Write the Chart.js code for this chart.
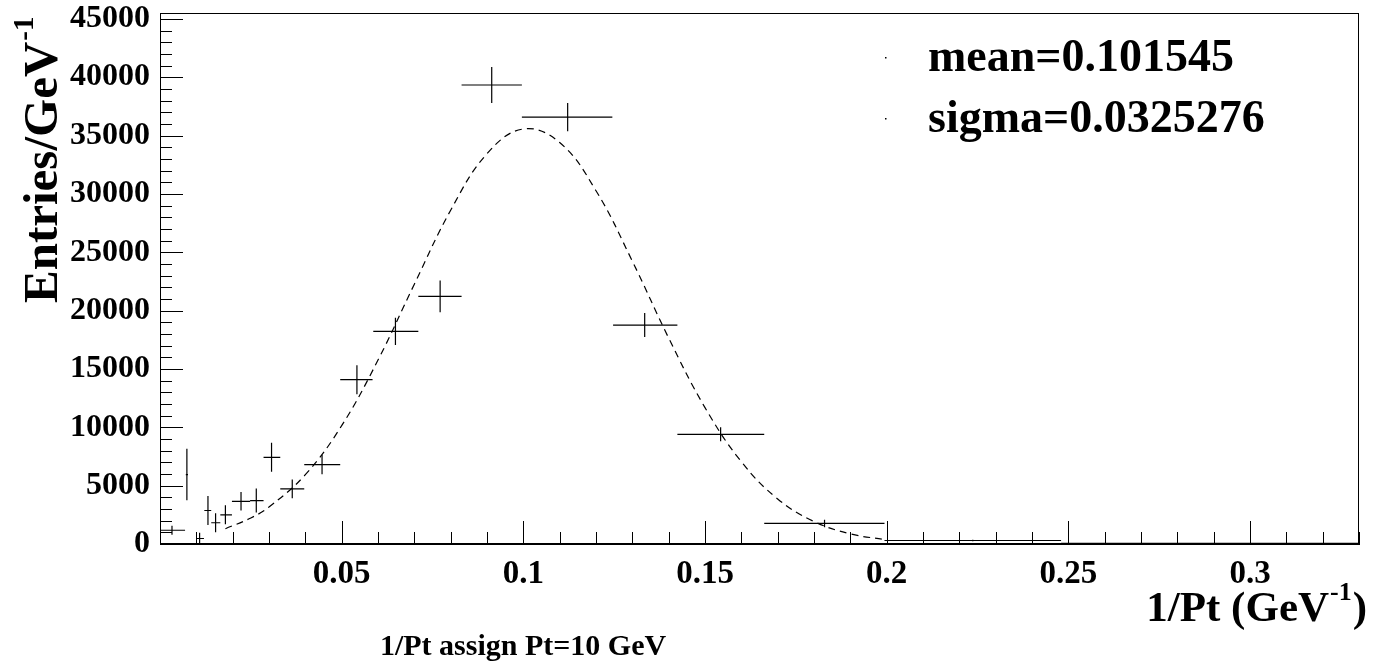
<!DOCTYPE html>
<html>
<head>
<meta charset="utf-8">
<script src="https://cdn.jsdelivr.net/npm/chart.js@4"></script>
<style>
  body { margin: 0; background: #fff; }
  #wrap { width: 1384px; height: 666px; }
</style>
</head>
<body>
<div id="wrap"><canvas id="histo" width="1384" height="666"></canvas></div>
<script>
// bin centres, edges, contents and errors
const binCenter = [0.0033, 0.0074, 0.0109, 0.0132, 0.0153, 0.0180, 0.0223, 0.0265, 0.0307, 0.0364, 0.0446,
  0.0542, 0.0648, 0.0771, 0.0913, 0.1122, 0.1334, 0.1543, 0.1829, 0.2237, 0.2890];
const binLow = [0.0000, 0.0071, 0.0100, 0.0122, 0.0141, 0.0166, 0.0198, 0.0248, 0.0285, 0.0331, 0.0397,
  0.0496, 0.0587, 0.0711, 0.0830, 0.0996, 0.1247, 0.1424, 0.1663, 0.1994, 0.2480];
const binHigh = [0.0069, 0.0077, 0.0121, 0.0141, 0.0166, 0.0198, 0.0248, 0.0285, 0.0331, 0.0397, 0.0496,
  0.0585, 0.0711, 0.0830, 0.0996, 0.1245, 0.1424, 0.1663, 0.1994, 0.2480, 0.3300];
const entries = [1180, 5950, 470, 2870, 1820, 2500, 3660, 3720, 7430, 4730, 6810,
  14080, 18220, 21210, 39330, 36570, 18760, 9400, 1760, 300, 60];
const entryErr = [380, 2210, 490, 1250, 810, 810, 800, 1030, 1240, 800, 830,
  1240, 1170, 1360, 1540, 1210, 1030, 600, 320, 60, 20];

// dashed gaussian fit
const fitX = [0.018, 0.025, 0.03, 0.04, 0.05, 0.06, 0.07, 0.08, 0.09, 0.10,
  0.11, 0.12, 0.13, 0.14, 0.15, 0.16, 0.17, 0.18, 0.19, 0.20];
const fitY = [1310, 2230, 3170, 5940, 10140, 15760, 22260, 28600, 33440, 35560,
  34400, 30270, 24240, 17650, 11690, 7050, 3860, 1930, 870, 360];

const xTickValues = [0.05, 0.1, 0.15, 0.2, 0.25, 0.3];
const xTickLabels = ["0.05", "0.1", "0.15", "0.2", "0.25", "0.3"];
const yTickValues = [0, 5000, 10000, 15000, 20000, 25000, 30000, 35000, 40000, 45000];
const yTickLabels = ["0", "5000", "10000", "15000", "20000", "25000", "30000", "35000", "40000", "45000"];

const legendLines = ["mean=0.101545", "sigma=0.0325276"];
const histTitle = "1/Pt assign Pt=10 GeV";

const X_MIN = 0, X_MAX = 0.33, Y_MIN = 0, Y_MAX = 45500;
const SERIF = "'Liberation Serif', 'DejaVu Serif', serif";

// segments for the error crosses, broken with nulls
const horizSeg = [];
const vertSeg = [];
binCenter.forEach((c, i) => {
  horizSeg.push({ x: binLow[i], y: entries[i] }, { x: binHigh[i], y: entries[i] }, { x: binHigh[i], y: null });
  vertSeg.push({ x: c, y: entries[i] - entryErr[i] }, { x: c, y: entries[i] + entryErr[i] }, { x: c, y: null });
});
const fitPts = fitX.map((x, i) => ({ x, y: fitY[i] }));

// text with a raised "-1"
const drawSup = (ctx, base, sup, tail, size) => {
  ctx.font = `bold ${size}px ${SERIF}`;
  const w1 = ctx.measureText(base).width;
  ctx.fillText(base, 0, 0);
  ctx.font = `bold ${Math.round(size * 0.6)}px ${SERIF}`;
  const w2 = ctx.measureText(sup).width;
  ctx.fillText(sup, w1 + 1, -size * 0.48);
  ctx.font = `bold ${size}px ${SERIF}`;
  if (tail) ctx.fillText(tail, w1 + w2 + 2, 0);
};
const supWidth = (ctx, base, sup, tail, size) => {
  ctx.font = `bold ${size}px ${SERIF}`;
  let w = ctx.measureText(base).width + (tail ? ctx.measureText(tail).width : 0);
  ctx.font = `bold ${Math.round(size * 0.6)}px ${SERIF}`;
  return w + ctx.measureText(sup).width + 2;
};

const rootFrame = {
  id: "rootFrame",
  afterDatasetsDraw(chart) {
    const { ctx, chartArea: a, scales: { x, y } } = chart;
    ctx.save();
    ctx.strokeStyle = "#000";
    ctx.lineWidth = 1;
    ctx.strokeRect(a.left + 0.5, a.top + 0.5, a.right - a.left - 1, a.bottom - a.top - 1);

    // ticks pointing inwards, ROOT style
    ctx.beginPath();
    for (let i = 1; i <= 33; i++) {
      const px = Math.round(x.getPixelForValue(i / 100)) + 0.5;
      const len = i % 5 === 0 ? 23 : 12;
      ctx.moveTo(px, a.bottom);
      ctx.lineTo(px, a.bottom - len);
    }
    for (let v = 1000; v <= 45000; v += 1000) {
      const py = Math.round(y.getPixelForValue(v)) + 0.5;
      const len = v % 5000 === 0 ? 23 : 12;
      ctx.moveTo(a.left, py);
      ctx.lineTo(a.left + len, py);
    }
    ctx.stroke();

    // legend
    ctx.fillStyle = "#000";
    ctx.font = `bold 46px ${SERIF}`;
    ctx.textBaseline = "alphabetic";
    ctx.textAlign = "left";
    const legendBase = [71, 132];
    legendLines.forEach((t, i) => {
      ctx.fillText(t, 928, legendBase[i]);
      ctx.fillRect(885, legendBase[i] - 14, 1.5, 1.5);
    });

    // x title, right aligned
    const xw = supWidth(ctx, "1/Pt (GeV", "-1", ")", 43);
    ctx.save();
    ctx.translate(1367 - xw, 621);
    drawSup(ctx, "1/Pt (GeV", "-1", ")", 43);
    ctx.restore();

    // y title, rotated
    ctx.save();
    ctx.translate(57, 303);
    ctx.rotate(-Math.PI / 2);
    drawSup(ctx, "Entries/GeV", "-1", "", 49);
    ctx.restore();

    // histogram title
    ctx.font = `bold 30px ${SERIF}`;
    ctx.textAlign = "center";
    ctx.fillText(histTitle, 523, 655);
    ctx.restore();
  }
};

new Chart(document.getElementById("histo"), {
  type: "scatter",
  data: {
    datasets: [
      { data: horizSeg, showLine: true, spanGaps: false, borderColor: "#000", borderWidth: 1.2, pointRadius: 0 },
      { data: vertSeg, showLine: true, spanGaps: false, borderColor: "#000", borderWidth: 1.2, pointRadius: 0 },
      { data: fitPts, showLine: true, borderColor: "#000", borderWidth: 1.2, borderDash: [7, 5],
        pointRadius: 0, tension: 0.4 }
    ]
  },
  options: {
    responsive: false,
    animation: false,
    layout: { padding: { top: 13, right: 25, left: 0, bottom: 0 } },
    plugins: { legend: { display: false }, tooltip: { enabled: false } },
    scales: {
      x: {
        type: "linear",
        min: X_MIN,
        max: X_MAX,
        grid: { display: false, drawTicks: false },
        border: { display: true, color: "#000", width: 1 },
        afterBuildTicks: (s) => { s.ticks = xTickValues.map(v => ({ value: v })); },
        afterFit: (s) => { s.height = 122; s.paddingLeft = 0; s.paddingRight = 0; },
        ticks: {
          autoSkip: false,
          maxRotation: 0,
          padding: 11,
          color: "#000",
          font: { family: SERIF, size: 33, weight: "bold" },
          callback: (v, i) => xTickLabels[i]
        }
      },
      y: {
        type: "linear",
        min: Y_MIN,
        max: Y_MAX,
        grid: { display: false, drawTicks: false },
        border: { display: true, color: "#000", width: 1 },
        afterBuildTicks: (s) => { s.ticks = yTickValues.map(v => ({ value: v })); },
        afterFit: (s) => { s.width = 160; s.paddingTop = 0; s.paddingBottom = 0; },
        ticks: {
          autoSkip: false,
          padding: 10,
          color: "#000",
          font: { family: SERIF, size: 32, weight: "bold" },
          callback: (v, i) => yTickLabels[i]
        }
      }
    }
  },
  plugins: [rootFrame]
});
</script>
</body>
</html>
